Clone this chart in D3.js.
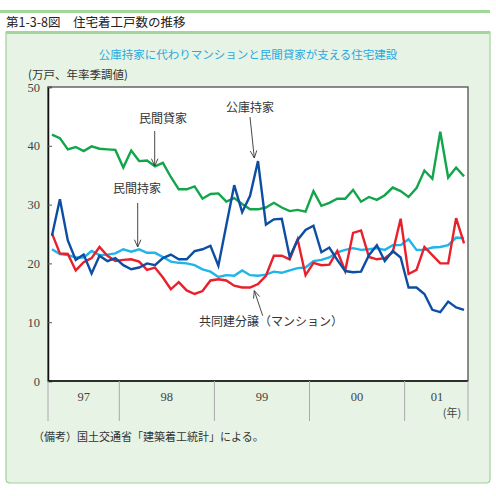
<!DOCTYPE html>
<html><head><meta charset="utf-8">
<script src="https://cdn.jsdelivr.net/npm/d3@7"></script>
<style>
html,body{margin:0;padding:0;background:#fff;}
svg{display:block;}
</style></head>
<body>
<script>
const months = ["97-04","97-05","97-06","97-07","97-08","97-09","97-10","97-11","97-12",
"98-01","98-02","98-03","98-04","98-05","98-06","98-07","98-08","98-09","98-10","98-11","98-12",
"99-01","99-02","99-03","99-04","99-05","99-06","99-07","99-08","99-09","99-10","99-11","99-12",
"00-01","00-02","00-03","00-04","00-05","00-06","00-07","00-08","00-09","00-10","00-11","00-12",
"01-01","01-02","01-03","01-04","01-05","01-06","01-07","01-08"];
const yearLabels = ["97","98","99","00","01"];
const yearStarts = ["97-04","98-01","99-01","00-01","01-01"];
const yTicks = [0,10,20,30,40,50];

const rentals = [41.9,41.3,39.4,39.8,39.1,39.9,39.5,39.4,39.3,36.3,39.2,37.4,37.5,36.5,37.1,34.7,32.6,32.6,33.1,31.0,31.8,31.9,30.5,31.1,30.1,29.2,29.2,29.5,30.3,29.5,28.9,29.1,28.8,32.3,29.8,30.3,31.0,31.0,32.5,30.5,31.3,30.8,31.6,32.9,32.3,31.3,32.8,35.8,34.4,42.4,34.6,36.3,34.8];
const kouko = [24.7,30.9,23.9,20.6,21.5,18.3,21.3,20.4,20.9,19.7,19.0,19.3,20.0,19.7,20.9,21.5,20.7,20.7,22.1,22.4,23.0,19.6,26.5,33.3,28.7,31.5,37.4,26.6,27.5,27.6,21.1,24.0,25.7,26.4,21.9,22.7,20.6,18.7,18.5,18.6,21.4,23.1,20.4,22.1,21.0,15.9,15.9,14.8,12.1,11.7,13.5,12.5,12.1];
const mansion = [25.1,21.7,21.6,18.8,20.2,20.9,22.8,21.3,20.4,20.6,20.7,20.3,18.9,19.3,17.6,15.6,16.8,15.4,14.8,15.3,17.1,17.3,17.1,16.2,15.9,15.9,16.5,17.9,21.3,21.3,20.7,24.1,18.0,20.1,19.7,19.8,22.1,18.7,25.2,25.6,21.1,20.7,20.9,21.9,27.6,18.2,18.9,22.8,21.4,20.0,20.0,27.7,23.4];
const ownHomes = [22.4,21.6,21.4,21.0,21.0,22.1,21.4,21.5,21.7,22.4,22.0,22.4,21.8,21.8,21.1,20.3,20.1,20.0,19.7,19.0,18.6,17.7,18.0,17.9,18.8,18.0,17.9,18.1,18.6,18.4,18.8,19.2,19.3,20.4,20.6,21.0,21.9,22.3,22.6,22.3,22.4,22.6,22.3,23.1,23.1,24.1,22.3,22.3,22.7,22.8,23.1,24.4,24.3];

const W = 496, H = 496;
const svg = d3.select("body").append("svg").attr("width", W).attr("height", H);
const jp = "'Noto Sans CJK JP','Noto Sans',sans-serif";
const serif = "'Liberation Serif','DejaVu Serif',serif";

// top rule and header
svg.append("rect").attr("x",0).attr("y",10).attr("width",490).attr("height",3).attr("fill","#a3d69d");
svg.append("text").attr("x",6).attr("y",27).attr("font-family",jp).attr("font-size",12.5).attr("fill","#222")
  .text("第1-3-8図　住宅着工戸数の推移");

// panel
svg.append("path").attr("d","M6,32 H490 V479 Q490,483 486,483 H10 Q6,483 6,479 Z")
  .attr("fill","#e7f3e4").attr("stroke","#9fd49a").attr("stroke-width",1.2);
svg.append("rect").attr("x",6).attr("y",31).attr("width",484).attr("height",3).attr("fill","#a3d69d");

svg.append("text").attr("x",248).attr("y",59).attr("text-anchor","middle").attr("font-family",jp)
  .attr("font-size",11.5).attr("fill","#27a9e1").text("公庫持家に代わりマンションと民間貸家が支える住宅建設");

const L = 48, R = 468, T = 87, B = 381;
const x = d3.scaleLinear().domain([-0.5, months.length - 0.5]).range([L, R]);
const y = d3.scaleLinear().domain([0, 50]).range([B, T]);

svg.append("rect").attr("x",L).attr("y",T).attr("width",R-L).attr("height",B-T)
  .attr("fill","#fff").attr("stroke","#666").attr("stroke-width",1.5);

// y axis
const yAxis = d3.axisLeft(y).tickValues(yTicks).tickSize(-4).tickPadding(8).tickFormat(d3.format("d"));
const gy = svg.append("g").attr("transform",`translate(${L},0)`).call(yAxis);
gy.select(".domain").attr("stroke","#111").attr("stroke-width",1.5);
gy.selectAll(".tick line").attr("stroke","#555");
gy.selectAll(".tick text").attr("font-family",serif).attr("font-size",12.5).attr("fill","#444");
svg.append("line").attr("x1",L).attr("x2",R).attr("y1",B).attr("y2",B).attr("stroke","#111").attr("stroke-width",1.5);

svg.append("text").attr("x",28).attr("y",79).attr("font-family",jp).attr("font-size",11.5).attr("fill","#333")
  .text("(万戸、年率季調値)");

// year bands
const bounds = yearStarts.map(m => x(months.indexOf(m) - 0.5)).concat([R]);
svg.selectAll("line.div").data(bounds).enter().append("line").attr("class","div")
  .attr("x1",d=>d).attr("x2",d=>d).attr("y1",B).attr("y2",421).attr("stroke","#aaa").attr("stroke-width",1);
svg.selectAll("text.yr").data(yearLabels).enter().append("text").attr("class","yr")
  .attr("x",(d,i)=> i===4 ? 437 : (bounds[i]+bounds[i+1])/2).attr("y",401).attr("text-anchor","middle")
  .attr("font-family",serif).attr("font-size",12.5).attr("fill","#444").text(d=>d);
svg.append("text").attr("x",452).attr("y",417).attr("text-anchor","middle").attr("font-family",jp)
  .attr("font-size",11).attr("fill","#444").text("(年)");

// lines
const line = d3.line().x((d,i)=>x(i)).y(d=>y(d));
const series = [
  {v: rentals, c: "#12a54a"},
  {v: ownHomes, c: "#1fb4ea"},
  {v: mansion, c: "#e8202b"},
  {v: kouko, c: "#0d4ea3"}
];
svg.selectAll("path.s").data(series).enter().append("path").attr("class","s")
  .attr("d",d=>line(d.v)).attr("fill","none").attr("stroke",d=>d.c).attr("stroke-width",2.4)
  .attr("stroke-linejoin","miter");

// annotations
function arrow(x1,y1,x2,y2){
  svg.append("line").attr("x1",x1).attr("y1",y1).attr("x2",x2).attr("y2",y2).attr("stroke","#333").attr("stroke-width",0.9);
  const a = Math.atan2(y2-y1,x2-x1), len=8, sp=0.42;
  svg.append("path").attr("d",`M${x2-len*Math.cos(a-sp)},${y2-len*Math.sin(a-sp)} L${x2},${y2} L${x2-len*Math.cos(a+sp)},${y2-len*Math.sin(a+sp)}`)
    .attr("fill","none").attr("stroke","#333").attr("stroke-width",0.9);
}
function label(t,cx,cy){
  svg.append("text").attr("x",cx).attr("y",cy).attr("text-anchor","middle").attr("font-family",jp)
    .attr("font-size",12).attr("fill","#333").text(t);
}
label("民間貸家",163,123); arrow(154.7,131,154.7,166);
label("公庫持家",250,112); arrow(250,117,254.3,158);
label("民間持家",137,193); arrow(137.7,203,137.7,247);
label("共同建分譲（マンション）",271,326); arrow(262.7,315.7,254.3,290.7);
svg.append("text").attr("x",33).attr("y",441).attr("font-family",jp).attr("font-size",11).attr("fill","#333")
  .text("（備考）国土交通省「建築着工統計」による。");
</script>
</body></html>
